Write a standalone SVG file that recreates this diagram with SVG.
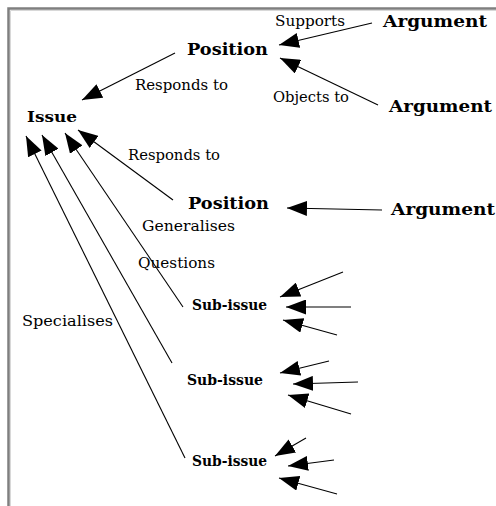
<svg xmlns="http://www.w3.org/2000/svg" width="496" height="506" viewBox="0 0 496 506">
<defs>
<style>
.node{font-family:"DejaVu Serif","Liberation Serif",serif;font-weight:bold;fill:#000}
.lbl{font-family:"DejaVu Serif","Liberation Serif",serif;font-size:14px;fill:#000}
.con{stroke:#000;stroke-width:1.1;fill:none;marker-end:url(#ah)}
</style>
<marker id="ah" viewBox="0 0 20 15" refX="20" refY="7.5" markerWidth="20" markerHeight="15" markerUnits="userSpaceOnUse" orient="auto">
<path d="M0,0 L20,7.5 L0,15 z" fill="#000"/>
</marker>
</defs>
<rect width="496" height="506" fill="#fff"/>
<path d="M8.5,506 V8.5 H496" stroke="#7f7f7f" stroke-width="2.5" fill="none"/>
<path d="M10.5,506 V10.5 H496" stroke="#d8d8d8" stroke-width="1" fill="none"/>

<g id="connectors">
<path class="con" d="M175,53 L82,100"/>
<path class="con" d="M372,23 L279,45"/>
<path class="con" d="M378,105 L280,58"/>
<path class="con" d="M173,200 L78,130"/>
<path class="con" d="M382,210 L287,208"/>
<path class="con" d="M183,307 L65,133"/>
<path class="con" d="M172,363 L42,135"/>
<path class="con" d="M185,458 L26,136"/>
<path class="con" d="M343,272 L280,297"/>
<path class="con" d="M351,307 L286,307"/>
<path class="con" d="M337,335 L283,320"/>
<path class="con" d="M329,361 L280,373"/>
<path class="con" d="M358,382 L293,384"/>
<path class="con" d="M351,414 L288,395"/>
<path class="con" d="M306,438 L275,456"/>
<path class="con" d="M334,460 L288,466"/>
<path class="con" d="M337,494 L279,478"/>
</g>

<g id="labels">
<text class="lbl" x="275" y="26" textLength="70" lengthAdjust="spacingAndGlyphs">Supports</text>
<text class="lbl" x="273" y="102" textLength="76" lengthAdjust="spacingAndGlyphs">Objects to</text>
<text class="lbl" x="135" y="90" textLength="93" lengthAdjust="spacingAndGlyphs">Responds to</text>
<text class="lbl" x="128" y="160" textLength="92" lengthAdjust="spacingAndGlyphs">Responds to</text>
<text class="lbl" x="142" y="231" textLength="93" lengthAdjust="spacingAndGlyphs">Generalises</text>
<text class="lbl" x="138" y="268" textLength="77" lengthAdjust="spacingAndGlyphs">Questions</text>
<text class="lbl" x="22" y="326" textLength="91" lengthAdjust="spacingAndGlyphs">Specialises</text>
</g>

<g id="issue"><text class="node" x="27" y="122" font-size="15" textLength="50" lengthAdjust="spacingAndGlyphs">Issue</text></g>
<g id="position1"><text class="node" x="187" y="55" font-size="16" textLength="81" lengthAdjust="spacingAndGlyphs">Position</text></g>
<g id="argument1"><text class="node" x="383" y="27" font-size="17" textLength="104" lengthAdjust="spacingAndGlyphs">Argument</text></g>
<g id="argument2"><text class="node" x="389" y="112" font-size="17" textLength="103" lengthAdjust="spacingAndGlyphs">Argument</text></g>
<g id="position2"><text class="node" x="188" y="209" font-size="16" textLength="81" lengthAdjust="spacingAndGlyphs">Position</text></g>
<g id="argument3"><text class="node" x="391" y="215" font-size="17" textLength="104" lengthAdjust="spacingAndGlyphs">Argument</text></g>
<g id="subissue1"><text class="node" x="192" y="310" font-size="14" textLength="75" lengthAdjust="spacingAndGlyphs">Sub-issue</text></g>
<g id="subissue2"><text class="node" x="187" y="385" font-size="14" textLength="76" lengthAdjust="spacingAndGlyphs">Sub-issue</text></g>
<g id="subissue3"><text class="node" x="192" y="466" font-size="14" textLength="75" lengthAdjust="spacingAndGlyphs">Sub-issue</text></g>
</svg>
